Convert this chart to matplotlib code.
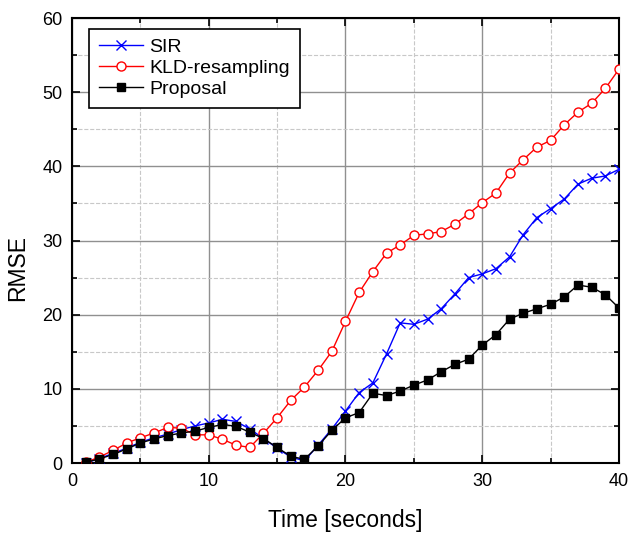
import matplotlib
matplotlib.use('Agg')
import matplotlib.pyplot as plt
import numpy as np

plt.rcParams['font.family'] = ['Liberation Sans', 'DejaVu Sans']

time = np.arange(1, 41)

sir = [0.0, 0.6, 1.3, 2.0, 2.8, 3.4, 3.9, 4.5, 5.0, 5.4,
       5.9, 5.6, 4.6, 3.3, 2.0, 0.8, 0.3, 2.4, 4.6, 7.0,
       9.5, 10.8, 14.7, 18.9, 18.7, 19.4, 20.8, 22.8, 25.0, 25.5,
       26.2, 27.8, 30.8, 33.1, 34.3, 35.6, 37.6, 38.4, 38.7, 39.6]

kld = [0.1, 0.8, 1.7, 2.7, 3.4, 4.05, 4.8, 4.7, 3.8, 3.8,
       3.2, 2.4, 2.1, 4.0, 6.1, 8.45, 10.25, 12.5, 15.05, 19.1,
       23.0, 25.8, 28.3, 29.4, 30.7, 30.9, 31.2, 32.2, 33.6, 35.1,
       36.4, 39.1, 40.9, 42.6, 43.5, 45.6, 47.3, 48.5, 50.5, 53.1]

proposal = [0.1, 0.55, 1.15, 1.9, 2.7, 3.25, 3.7, 4.05, 4.3, 4.8,
            5.2, 4.95, 4.15, 3.3, 2.1, 0.9, 0.5, 2.3, 4.4, 6.1,
            6.8, 9.4, 9.1, 9.7, 10.5, 11.2, 12.3, 13.3, 14.0, 15.9,
            17.3, 19.4, 20.2, 20.8, 21.4, 22.4, 24.0, 23.7, 22.7, 20.9]

fig = plt.figure(figsize=(6.3, 5.33), dpi=100)
ax = fig.add_axes([0.1143, 0.1313, 0.8682, 0.8349])

ax.plot(time, sir, color='blue', lw=1, marker='x', ms=6.5, mew=1,
        label='SIR', zorder=3)
ax.plot(time, kld, color='red', lw=1, marker='o', ms=6.5, mfc='white',
        mew=1, label='KLD-resampling', zorder=3)
ax.plot(time, proposal, color='black', lw=1, marker='s', ms=5.2,
        label='Proposal', zorder=4)

ax.set_xlim(0, 40)
ax.set_ylim(0, 60)
ax.set_xticks(np.arange(0, 41, 10))
ax.set_xticks(np.arange(5, 40, 10), minor=True)
ax.set_yticks(np.arange(0, 61, 10))
ax.set_yticks(np.arange(5, 60, 10), minor=True)

ax.grid(True, which='major', color='#909090', lw=1, ls='-')
ax.grid(True, which='minor', color='#c8c8c8', lw=0.8, ls='--')
ax.set_axisbelow(True)

ax.tick_params(which='both', direction='in', top=True, right=True,
               labelsize=13, width=1.2)
ax.tick_params(which='major', length=6, pad=7)
ax.tick_params(which='minor', length=3.5)
for sp in ax.spines.values():
    sp.set_linewidth(1.5)

ax.set_xlabel('Time [seconds]', fontsize=16.5)
ax.xaxis.set_label_coords(0.5, -0.103)
ax.set_ylabel('RMSE', fontsize=16.5)
ax.yaxis.set_label_coords(-0.079, 0.438)

leg = ax.legend(loc='upper left', bbox_to_anchor=(0.031, 0.976),
                fontsize=14, fancybox=False, framealpha=1,
                edgecolor='black', handlelength=2.3, handletextpad=0.3,
                borderpad=0.5, labelspacing=0.18, borderaxespad=0)
leg.get_frame().set_linewidth(1.2)

fig.savefig('out.png', dpi=100)
